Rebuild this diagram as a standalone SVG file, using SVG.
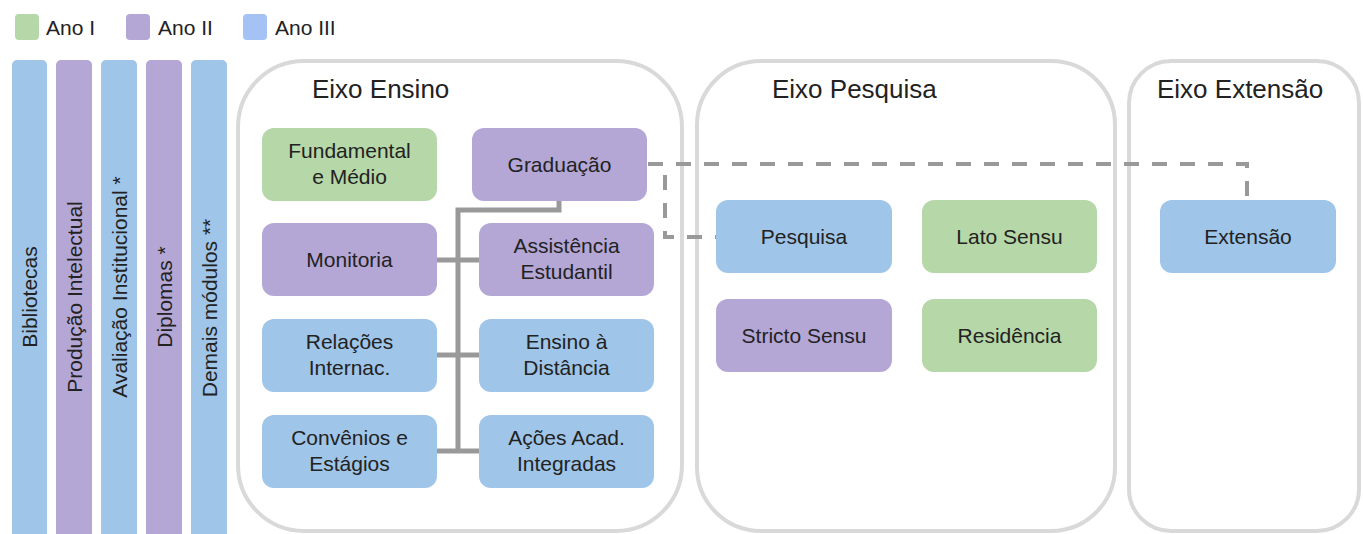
<svg xmlns="http://www.w3.org/2000/svg" width="1363" height="534" viewBox="0 0 1363 534">
<style>
text{font-family:"Liberation Sans",Arial,sans-serif;fill:#222;font-size:21px}
.t{font-size:26px}
.c{text-anchor:middle}
.g{fill:#b6d7a8}.p{fill:#b4a7d6}.b{fill:#9fc5e8}.lb{fill:#a4c2f4}
.box{fill:none;stroke:#d9d9d9;stroke-width:4}
.sol{fill:none;stroke:#999;stroke-width:5}
.dash{fill:none;stroke:#999;stroke-width:4;stroke-dasharray:15 13}
</style>
<rect width="1363" height="534" fill="#fff"/>
<g id="legend">
<rect class="g" x="15" y="14" width="24" height="26" rx="4"/><text x="46" y="35">Ano I</text>
<rect class="p" x="126" y="14" width="24" height="26" rx="4"/><text x="158" y="35">Ano II</text>
<rect class="lb" x="243" y="14" width="24" height="26" rx="4"/><text x="275" y="35">Ano III</text>
</g>
<g id="bar-bibliotecas"><rect class="b" x="12" y="60" width="35" height="480" rx="5"/><text class="c" transform="translate(29.5,297) rotate(-90)" y="7.5">Bibliotecas</text></g>
<g id="bar-producao"><rect class="p" x="56" y="60" width="36" height="480" rx="5"/><text class="c" transform="translate(74,297) rotate(-90)" y="7.5">Produção Intelectual</text></g>
<g id="bar-avaliacao"><rect class="b" x="101" y="60" width="36" height="480" rx="5"/><text class="c" transform="translate(119,287) rotate(-90)" y="7.5">Avaliação Institucional *</text></g>
<g id="bar-diplomas"><rect class="p" x="146" y="60" width="36" height="480" rx="5"/><text class="c" transform="translate(164,297) rotate(-90)" y="7.5">Diplomas *</text></g>
<g id="bar-demais"><rect class="b" x="191" y="60" width="36" height="480" rx="5"/><text class="c" transform="translate(209,308) rotate(-90)" y="7.5">Demais módulos **</text></g>
<g id="eixo-ensino"><rect class="box" x="238" y="61" width="444" height="470" rx="66"/><text class="t" x="312" y="98">Eixo Ensino</text></g>
<g id="eixo-pesquisa"><rect class="box" x="697" y="61" width="418" height="470" rx="64"/><text class="t" x="772" y="98">Eixo Pesquisa</text></g>
<g id="eixo-extensao"><rect class="box" x="1129" y="61" width="230" height="470" rx="42"/><text class="t" x="1157" y="98">Eixo Extensão</text></g>
<g id="connectors">
<path class="sol" d="M559,201 V210 H458 V451 M437,260 H479 M437,355 H479 M437,451 H479"/>
<path class="dash" d="M648,164 H665 V237 H716"/>
<path class="dash" d="M648,164 H1247 V200"/>
</g>
<g id="fundamental"><rect class="g" x="262" y="128" width="175" height="73" rx="12"/><text class="c" x="349.5" y="158">Fundamental</text><text class="c" x="349.5" y="184">e Médio</text></g>
<g id="graduacao"><rect class="p" x="472" y="128" width="175" height="73" rx="12"/><text class="c" x="559.5" y="172">Graduação</text></g>
<g id="monitoria"><rect class="p" x="262" y="223" width="175" height="73" rx="12"/><text class="c" x="349.5" y="267">Monitoria</text></g>
<g id="assistencia"><rect class="p" x="479" y="223" width="175" height="73" rx="12"/><text class="c" x="566.5" y="253">Assistência</text><text class="c" x="566.5" y="279">Estudantil</text></g>
<g id="relacoes"><rect class="b" x="262" y="319" width="175" height="73" rx="12"/><text class="c" x="349.5" y="349">Relações</text><text class="c" x="349.5" y="375">Internac.</text></g>
<g id="ead"><rect class="b" x="479" y="319" width="175" height="73" rx="12"/><text class="c" x="566.5" y="349">Ensino à</text><text class="c" x="566.5" y="375">Distância</text></g>
<g id="convenios"><rect class="b" x="262" y="415" width="175" height="73" rx="12"/><text class="c" x="349.5" y="445">Convênios e</text><text class="c" x="349.5" y="471">Estágios</text></g>
<g id="acoes"><rect class="b" x="479" y="415" width="175" height="73" rx="12"/><text class="c" x="566.5" y="445">Ações Acad.</text><text class="c" x="566.5" y="471">Integradas</text></g>
<g id="pesquisa"><rect class="b" x="716" y="200" width="176" height="73" rx="12"/><text class="c" x="804" y="244">Pesquisa</text></g>
<g id="lato"><rect class="g" x="922" y="200" width="175" height="73" rx="12"/><text class="c" x="1009.5" y="244">Lato Sensu</text></g>
<g id="stricto"><rect class="p" x="716" y="299" width="176" height="73" rx="12"/><text class="c" x="804" y="343">Stricto Sensu</text></g>
<g id="residencia"><rect class="g" x="922" y="299" width="175" height="73" rx="12"/><text class="c" x="1009.5" y="343">Residência</text></g>
<g id="extensao"><rect class="b" x="1160" y="200" width="176" height="73" rx="12"/><text class="c" x="1248" y="244">Extensão</text></g>
</svg>
